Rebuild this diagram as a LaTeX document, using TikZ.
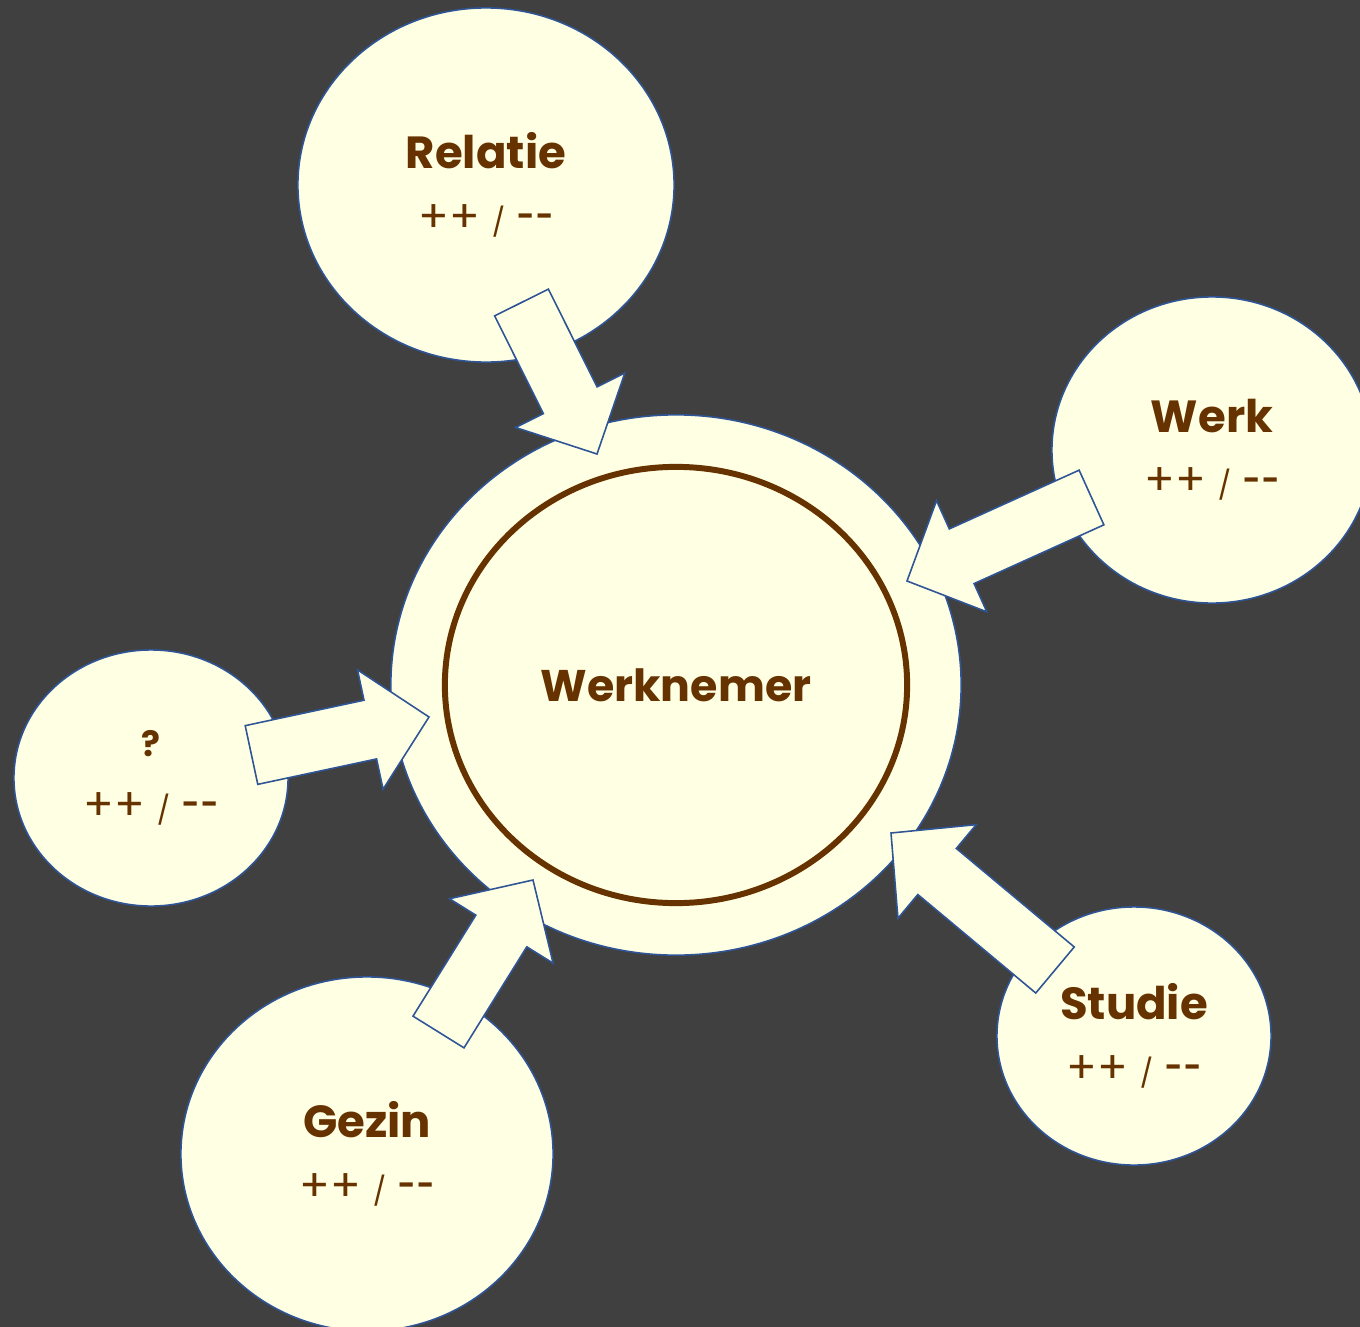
\documentclass[tikz,border=0pt]{standalone}
\usepackage{fontspec}
\setmainfont{Poppins}
\usetikzlibrary{shapes.geometric}
\usetikzlibrary{calc}
\definecolor{bgdark}{RGB}{64,64,64}
\definecolor{cellfill}{RGB}{255,255,227}
\definecolor{cellline}{RGB}{47,85,151}
\definecolor{inkbrown}{RGB}{102,51,0}
\newcommand{\plusmin}{++ {\fontsize{8}{18}\selectfont /} \raisebox{1.6pt}{\bfseries\fontsize{8.5}{18}\selectfont -{}\kern0.5pt-}}

\begin{document}
\begin{tikzpicture}[x=0.01cm,y=-0.01cm]
\tikzstyle{cell}=[ellipse,draw=cellline,fill=cellfill,line width=0.45pt,inner sep=0pt,text=inkbrown,align=center,font=\fontsize{12.8}{18}\selectfont]
\tikzstyle{core}=[ellipse,draw=inkbrown,line width=1.7pt,inner sep=0pt,text=inkbrown,font=\bfseries\fontsize{12.6}{16}\selectfont]
\tikzstyle{blockarrow}=[draw=cellline,fill=cellfill,line width=0.45pt]

\fill[bgdark] (0,0) rectangle (1360,1327);
\clip (0,0) rectangle (1360,1327);

\node[cell,minimum width=3.76cm,minimum height=3.54cm] (relatie) at (486,185) {\textbf{Relatie}\\\plusmin} ;
\node[cell,minimum width=3.20cm,minimum height=3.06cm] (werk) at (1212,450) {\textbf{Werk}\\\plusmin} ;
\node[cell,minimum width=2.74cm,minimum height=2.56cm] (vraag) at (151,778) {{\fontsize{10}{18}\selectfont\textbf{?}}\\\plusmin} ;
\node[cell,minimum width=3.72cm,minimum height=3.54cm] (gezin) at (367,1154) {\textbf{Gezin}\\\plusmin} ;
\node[cell,minimum width=2.74cm,minimum height=2.58cm] (studie) at (1134,1036) {\textbf{Studie}\\\plusmin} ;

\node[cell,minimum width=5.70cm,minimum height=5.40cm] (werknemer-rand) at (676,685) {} ;
\node[core,minimum width=4.62cm,minimum height=4.36cm] (werknemer) at (676,685) {Werknemer} ;

% pijlen naar de werknemer
\coordinate (relatie-tail) at (521.5,302.5) ; \coordinate (relatie-tip) at (597,454) ;
\coordinate (werk-tail) at (1091.5,497.5) ;   \coordinate (werk-tip) at (907,581) ;
\coordinate (vraag-tail) at (251.5,755) ;     \coordinate (vraag-tip) at (429,717) ;
\coordinate (gezin-tail) at (438.5,1032) ;    \coordinate (gezin-tip) at (533,880) ;
\coordinate (studie-tail) at (1055,970) ;     \coordinate (studie-tip) at (891,833) ;

\foreach \a in {relatie,werk,vraag,gezin,studie}{
  \coordinate (\a-base) at ($(\a-tip)!0.6cm!(\a-tail)$) ;
  \draw[blockarrow] ($(\a-tail)!0.3cm!90:(\a-tip)$) -- ($(\a-base)!0.3cm!-90:(\a-tail)$)
    -- ($(\a-base)!0.61cm!-90:(\a-tail)$) -- (\a-tip) -- ($(\a-base)!0.61cm!90:(\a-tail)$)
    -- ($(\a-base)!0.3cm!90:(\a-tail)$) -- ($(\a-tail)!0.3cm!-90:(\a-tip)$) -- cycle ;
}

\end{tikzpicture}
\end{document}
